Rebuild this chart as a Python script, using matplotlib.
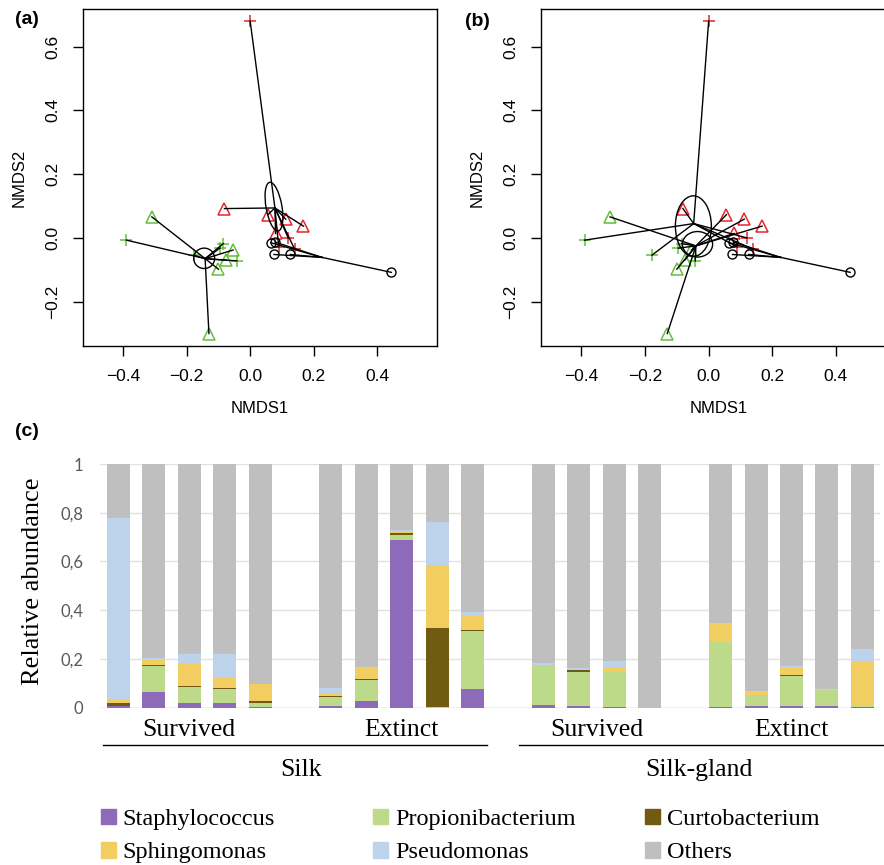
import numpy as np
import matplotlib.pyplot as plt
from matplotlib.patches import Ellipse, Patch
import matplotlib.transforms as mtransforms

# ---- NMDS ordination (same points in a and b) ----
nmds1 = [0.0, 0.12, 0.14, 0.09,
         -0.081, 0.056, 0.112, 0.168, 0.080,
         0.065, 0.078, 0.075, 0.126, 0.445,
         -0.31, -0.13, -0.054, -0.075, -0.10,
         -0.39, -0.178, -0.085, -0.095, -0.042]
nmds2 = [0.68, 0.0, -0.035, -0.028,
         0.092, 0.073, 0.059, 0.037, 0.014,
         -0.015, -0.013, -0.052, -0.052, -0.108,
         0.066, -0.30, -0.038, -0.07, -0.098,
         -0.007, -0.054, -0.018, -0.032, -0.072]
pt_kind = (['red+'] * 4 + ['red^'] * 5 + ['blacko'] * 5 +
           ['green^'] * 5 + ['green+'] * 5)
group_a = ['R'] * 9 + ['K'] * 5 + ['G'] * 10
group_b = (['A'] * 5 + ['B'] * 4 + ['K'] * 5 +
           ['B'] * 5 + ['A', 'A', 'B', 'B', 'B'])

# spider centres and ellipses (centre x, centre y, width, height, angle)
centres_a = {'R': (0.078, 0.094), 'G': (-0.142, -0.065), 'K': (0.226, -0.061)}
ellipses_a = [(0.075, 0.098, 0.05, 0.155, 10), (-0.145, -0.064, 0.066, 0.064, 0)]
centres_b = {'A': (-0.047, 0.045), 'B': (-0.04, -0.025), 'K': (0.226, -0.061)}
ellipses_b = [(-0.048, 0.037, 0.113, 0.19, 0), (-0.035, -0.02, 0.095, 0.08, 0)]

# ---- relative abundance (c) ----
taxa = ['Staphylococcus', 'Propionibacterium', 'Curtobacterium',
        'Sphingomonas', 'Pseudomonas', 'Others']
colors = ['#8E6BB8', '#BCDA8A', '#715A12', '#F2CE60', '#BDD3EC', '#BFBFBF']
staph = [0.005, 0.066, 0.021, 0.018, 0.003, 0.008, 0.026, 0.688, 0.0, 0.075,
         0.011, 0.008, 0.003, 0.0, 0.002, 0.008, 0.008, 0.008, 0.002]
propi = [0.003, 0.105, 0.062, 0.057, 0.018, 0.037, 0.088, 0.021, 0.002, 0.240,
         0.164, 0.137, 0.142, 0.0, 0.269, 0.044, 0.123, 0.064, 0.003]
curto = [0.012, 0.005, 0.005, 0.005, 0.005, 0.005, 0.004, 0.006, 0.326, 0.005,
         0.0, 0.008, 0.001, 0.0, 0.0, 0.0, 0.003, 0.0, 0.0]
sphingo = [0.014, 0.020, 0.097, 0.040, 0.071, 0.009, 0.046, 0.011, 0.257, 0.060,
           0.002, 0.006, 0.020, 0.0, 0.072, 0.011, 0.034, 0.002, 0.188]
pseudo = [0.744, 0.006, 0.034, 0.099, 0.002, 0.020, 0.002, 0.002, 0.178, 0.014,
          0.008, 0.003, 0.027, 0.0, 0.003, 0.007, 0.004, 0.002, 0.049]
abund = np.array([staph, propi, curto, sphingo, pseudo])
others = 1 - abund.sum(axis=0)
abund = np.vstack([abund, others])

# group sizes: Silk survived/extinct, Silk-gland survived/extinct
group_sizes = [5, 5, 4, 5]
status_labels = ['Survived', 'Extinct', 'Survived', 'Extinct']
tissue_labels = ['Silk', 'Silk-gland']

plt.rcParams['font.family'] = 'Liberation Sans'
fig = plt.figure(figsize=(8.84, 8.65), dpi=100)
W, H = 884, 865


def ordi_panel(ax, groups, centres, ells):
    for x, y, g in zip(nmds1, nmds2, groups):
        cx, cy = centres[g]
        ax.plot([x, cx], [y, cy], color='black', lw=1, zorder=3)
    for x, y, k in zip(nmds1, nmds2, pt_kind):
        col = {'red': '#E3262B', 'gre': '#63BE3A', 'bla': 'black'}[k[:3]]
        m = k[-1]
        if m == '+':
            ax.plot(x, y, marker='+', ms=9, mew=1.1, color=col, zorder=2)
        elif m == '^':
            ax.plot(x, y, marker='^', ms=8, mew=1.1, mfc='none', mec=col, zorder=2)
        else:
            ax.plot(x, y, marker='o', ms=6.5, mew=1.0, mfc='none', mec=col, zorder=2)
    for ex, ey, ew, eh, ang in ells:
        ax.add_patch(Ellipse((ex, ey), ew, eh, angle=ang, fill=False,
                             ec='black', lw=1, zorder=4))
    ax.set_xlim(-0.527, 0.589)
    ax.set_ylim(-0.339, 0.718)
    ax.set_xticks([-0.4, -0.2, 0.0, 0.2, 0.4])
    ax.set_yticks([-0.2, 0.0, 0.2, 0.4, 0.6])
    ax.set_xticklabels(['\u22120.4', '\u22120.2', '0.0', '0.2', '0.4'])
    ax.set_yticklabels(['\u22120.2', '0.0', '0.2', '0.4', '0.6'],
                       rotation=90, va='center')
    ax.tick_params(direction='out', length=7.5, width=1, labelsize=12.5, pad=9)
    for s in ax.spines.values():
        s.set_linewidth(1)
    ax.set_xlabel('NMDS1', fontsize=12, labelpad=12)
    ax.set_ylabel('NMDS2', fontsize=12, labelpad=13)


ax_a = fig.add_axes([83 / W, (H - 346) / H, 354 / W, 337 / H])
ordi_panel(ax_a, group_a, centres_a, ellipses_a)
ax_b = fig.add_axes([541 / W, (H - 346) / H, 355 / W, 337 / H])
ordi_panel(ax_b, group_b, centres_b, ellipses_b)

fig.text(15 / W, 1 - 20 / H, '(a)', fontsize=14, fontweight='bold', va='center')
fig.text(465 / W, 1 - 21 / H, '(b)', fontsize=14, fontweight='bold', va='center')
fig.text(15 / W, 1 - 432 / H, '(c)', fontsize=14, fontweight='bold', va='center')

# ---- bar chart ----
ax_c = fig.add_axes([100 / W, (H - 707.7) / H, 780 / W, 243.7 / H])
pos = []
start = 0
for n in group_sizes:
    pos.extend(range(start, start + n))
    start += n + 1
pos = np.array(pos)
bottom = np.zeros(len(pos))
for vals, col, name in zip(abund, colors, taxa):
    ax_c.bar(pos, vals, bottom=bottom, width=0.65, color=col, label=name, zorder=2)
    bottom += vals
ax_c.set_xlim(-0.52, 21.5)
ax_c.set_ylim(0, 1)
ax_c.set_yticks([0, 0.2, 0.4, 0.6, 0.8, 1.0])
ax_c.set_yticklabels(['0', '0,2', '0,4', '0,6', '0,8', '1'], family='Lato',
                     color='#595959', fontsize=12)
ax_c.set_xticks([])
ax_c.tick_params(length=0, pad=12)
ax_c.grid(axis='y', color='#E2E2E2', lw=1, zorder=0)
ax_c.set_axisbelow(True)
for s in ax_c.spines.values():
    s.set_visible(False)
ax_c.axhline(0, color='#D0D0D0', lw=1, zorder=1)

trans = mtransforms.blended_transform_factory(ax_c.transData, ax_c.transAxes)
start = 0
centres = []
for n, lab in zip(group_sizes, status_labels):
    c = start + (n - 1) / 2
    centres.append(c)
    ax_c.text(c, -0.09, lab, transform=trans, ha='center', va='center',
              family='Liberation Serif', fontsize=18.5)
    start += n + 1
ax_c.plot([-0.44, 10.4], [-0.155, -0.155], transform=trans, color='black',
          lw=1, clip_on=False)
ax_c.plot([11.3, 21.7], [-0.155, -0.155], transform=trans, color='black',
          lw=1, clip_on=False)
for (c1, c2), lab in zip([(centres[0], centres[1]), (centres[2], centres[3])],
                         tissue_labels):
    ax_c.text((c1 + c2) / 2 + 0.15, -0.255, lab, transform=trans, ha='center',
              va='center', family='Liberation Serif', fontsize=18.5)

fig.text(33 / W, (H - 581) / H, 'Relative abundance', rotation=90,
         ha='center', va='center', family='Liberation Serif', fontsize=19)

# legend: three fixed-width columns, two rows each
legend_cols = [[0, 3], [1, 4], [2, 5]]
legend_x = [101, 373, 645]
for idx, lx in zip(legend_cols, legend_x):
    leg = fig.legend([Patch(color=colors[i]) for i in idx], [taxa[i] for i in idx],
                     loc='center left', bbox_to_anchor=(lx / W, 1 - 836 / H),
                     frameon=False, handlelength=0.6, handleheight=0.6,
                     handletextpad=0.3, labelspacing=0.5, borderpad=0,
                     borderaxespad=0,
                     prop={'family': 'Liberation Serif', 'size': 17.5})

fig.savefig('out.png', dpi=100)
